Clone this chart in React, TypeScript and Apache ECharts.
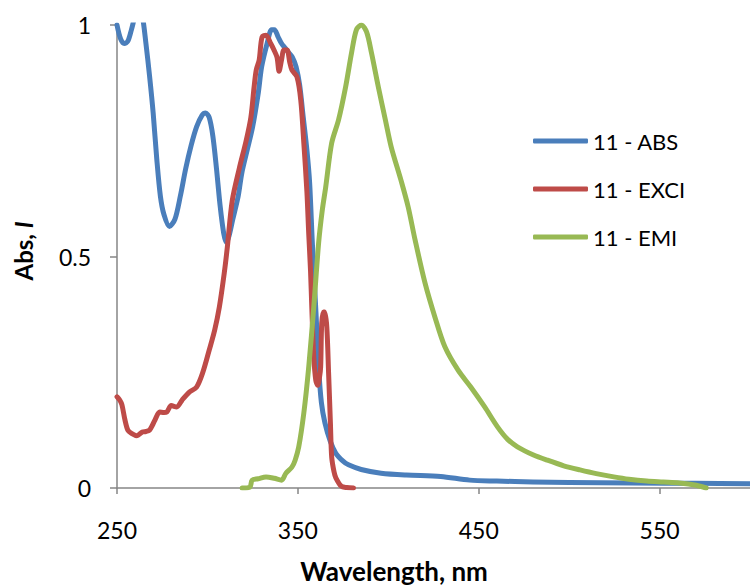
import React, { useEffect, useRef } from "react";
import * as echarts from "echarts";

const seriesNames = ["11 - ABS", "11 - EXCI", "11 - EMI"];
const colors = ["#4A7EBB", "#BE4B48", "#98B954"];

const absWl = [250, 252, 254, 256, 258, 260, 262, 264, 266, 268, 270, 272, 274, 276, 279, 282, 285, 288, 291, 294, 297, 299, 301, 303, 305, 307, 309, 310.5, 312, 314, 317, 319, 322, 325, 328, 330, 333, 335.5, 337, 339, 341, 343, 345, 347, 349, 351, 353, 355, 356.5, 358, 360, 361.5, 363, 365, 368, 371, 375, 378, 385, 396, 410, 429, 445, 460, 480, 500, 535, 570, 600];
const absVal = [1.0, 0.97, 0.96, 0.965, 0.99, 1.02, 1.04, 1.02, 0.96, 0.89, 0.81, 0.71, 0.63, 0.59, 0.565, 0.58, 0.63, 0.69, 0.74, 0.78, 0.805, 0.81, 0.8, 0.76, 0.69, 0.61, 0.55, 0.53, 0.545, 0.58, 0.63, 0.68, 0.73, 0.78, 0.85, 0.91, 0.96, 0.99, 0.99, 0.975, 0.96, 0.95, 0.94, 0.93, 0.91, 0.87, 0.8, 0.73, 0.66, 0.53, 0.38, 0.26, 0.185, 0.14, 0.1, 0.075, 0.058, 0.05, 0.04, 0.032, 0.028, 0.025, 0.017, 0.015, 0.013, 0.012, 0.011, 0.01, 0.009];

const exciWl = [250, 251.5, 252.7, 254.4, 256, 258, 261, 264, 266, 268, 269.5, 271, 273.6, 276, 277.5, 280, 283, 286, 290, 294, 297.3, 301, 304, 306.6, 309.3, 311, 313.7, 317.6, 321.4, 324, 325.8, 327, 328.6, 330.2, 332.4, 335, 336.8, 338.5, 339.6, 341, 342.3, 344, 345.5, 346.7, 349.5, 351.6, 353.3, 355, 356, 357, 357.7, 358.8, 359.9, 361, 362, 362.6, 363.2, 364.2, 364.8, 366, 367, 368, 368.7, 370, 371, 374, 377, 380.8];
const exciVal = [0.197, 0.19, 0.18, 0.147, 0.125, 0.118, 0.113, 0.121, 0.122, 0.125, 0.135, 0.147, 0.164, 0.163, 0.164, 0.178, 0.175, 0.19, 0.207, 0.218, 0.248, 0.298, 0.341, 0.391, 0.464, 0.52, 0.62, 0.69, 0.75, 0.8, 0.866, 0.903, 0.924, 0.974, 0.978, 0.96, 0.946, 0.93, 0.9, 0.925, 0.946, 0.946, 0.92, 0.903, 0.888, 0.838, 0.745, 0.64, 0.55, 0.47, 0.391, 0.283, 0.233, 0.222, 0.24, 0.261, 0.356, 0.38, 0.38, 0.348, 0.248, 0.14, 0.067, 0.035, 0.022, 0.004, 0.001, 0.0];

const emiWl = [319.2, 323.5, 324.7, 328, 332.4, 337, 341, 343.4, 346.7, 348.5, 350.5, 353.3, 356, 358.8, 361.5, 363.5, 365.4, 368.7, 372.5, 376.4, 379.7, 382.4, 385.2, 388, 390.7, 394.5, 398.4, 401.6, 407, 411, 414.8, 420.3, 425.8, 431.3, 438.5, 445.6, 453.3, 460.4, 466, 471.4, 480, 488, 497, 506, 515, 524.7, 533, 542.9, 552, 561, 570.3, 575.8];
const emiVal = [0.0, 0.002, 0.017, 0.02, 0.024, 0.021, 0.017, 0.032, 0.045, 0.06, 0.089, 0.162, 0.261, 0.391, 0.53, 0.6, 0.65, 0.745, 0.795, 0.866, 0.94, 0.99, 1.0, 0.985, 0.94, 0.866, 0.795, 0.737, 0.665, 0.607, 0.536, 0.443, 0.369, 0.305, 0.255, 0.218, 0.175, 0.132, 0.105, 0.089, 0.072, 0.06, 0.048, 0.039, 0.031, 0.024, 0.019, 0.015, 0.013, 0.011, 0.006, 0.0];

const xTitle = "Wavelength, nm";
const yTitle = "Abs, {i|I}";

const FONT = "Lato, 'Open Sans', sans-serif";
const AXIS_COLOR = "#868686";

function pairs(xs: number[], ys: number[]) {
  return xs.map((x, i) => [x, ys[i]]);
}

export default function App() {
  const ref = useRef<HTMLDivElement>(null);
  useEffect(() => {
    if (!ref.current) return;
    const chart = echarts.init(ref.current, undefined, { renderer: "svg" });
    const dataSets = [pairs(absWl, absVal), pairs(exciWl, exciVal), pairs(emiWl, emiVal)];
    chart.setOption({
      animation: false,
      textStyle: { fontFamily: FONT },
      grid: { left: 117, top: 25, width: 637, height: 463, containLabel: false },
      xAxis: {
        type: "value",
        min: 250,
        max: 600,
        interval: 100,
        axisLine: { show: true, lineStyle: { color: AXIS_COLOR, width: 1.5 } },
        axisTick: { show: true, length: 6, lineStyle: { color: AXIS_COLOR, width: 1.5 } },
        axisLabel: { color: "#000", fontSize: 23, fontFamily: FONT, margin: 30, showMaxLabel: false },
        splitLine: { show: false },
      },
      yAxis: {
        type: "value",
        min: 0,
        max: 1,
        interval: 0.5,
        axisLine: { show: true, lineStyle: { color: AXIS_COLOR, width: 1.5 } },
        axisTick: { show: true, length: 7, lineStyle: { color: AXIS_COLOR, width: 1.5 } },
        axisLabel: { color: "#000", fontSize: 23, fontFamily: FONT, margin: 26 },
        splitLine: { show: false },
      },
      legend: {
        orient: "vertical",
        left: 528,
        top: 124,
        itemGap: 24,
        itemWidth: 55,
        itemHeight: 5,
        icon: "roundRect",
        textStyle: { fontSize: 22, fontFamily: FONT, color: "#000", lineHeight: 24 },
        data: seriesNames,
      },
      graphic: [
        {
          type: "text",
          x: 394,
          y: 571,
          style: {
            text: xTitle,
            fontSize: 26,
            fontWeight: "bold",
            fontFamily: FONT,
            fill: "#000",
            align: "center",
            verticalAlign: "middle",
          },
        },
        {
          type: "text",
          x: 23,
          y: 251,
          rotation: Math.PI / 2,
          style: {
            text: yTitle,
            fontSize: 24,
            fontWeight: "bold",
            fontFamily: FONT,
            fill: "#000",
            align: "center",
            verticalAlign: "middle",
            rich: {
              i: { fontStyle: "italic", fontWeight: "bold", fontSize: 24, fontFamily: FONT, fill: "#000" },
            },
          },
        },
      ],
      series: dataSets.map((d, i) => ({
        name: seriesNames[i],
        type: "line",
        data: d,
        smooth: 0.3,
        symbol: "none",
        clip: true,
        lineStyle: { color: colors[i], width: 5, cap: "round", join: "round" },
        itemStyle: { color: colors[i] },
        z: i === 1 ? 3 : i === 0 ? 2 : 4,
      })),
    });
    return () => chart.dispose();
  }, []);
  return <div ref={ref} style={{ width: 750, height: 586, position: "absolute", left: 0, top: 0 }} />;
}
